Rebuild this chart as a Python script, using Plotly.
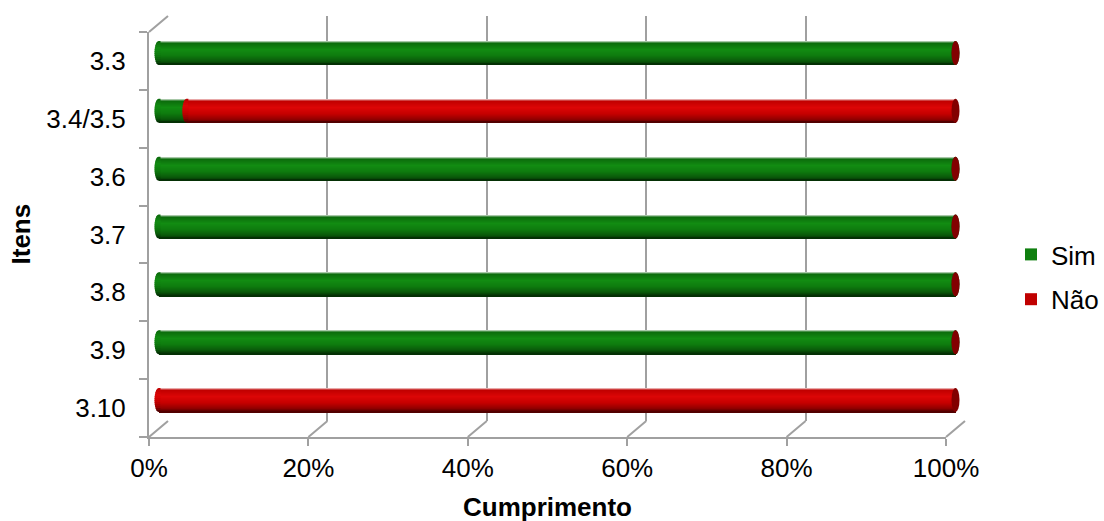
import math
import plotly.graph_objects as go

# ---- data -------------------------------------------------------------
categories = ["3.3", "3.4/3.5", "3.6", "3.7", "3.8", "3.9", "3.10"]
sim = [100, 3.5, 100, 100, 100, 100, 0]
nao = [0, 96.5, 0, 0, 0, 0, 100]
series_names = ["Sim", "Não"]
x_ticks = [0, 20, 40, 60, 80, 100]
x_tick_labels = ["0%", "20%", "40%", "60%", "80%", "100%"]

# ---- geometry (pixels) ------------------------------------------------
W, H = 1104, 521
FRONT_L, FRONT_R = 149, 946      # front plane, 0% .. 100%
FRONT_T, FRONT_B = 32, 437       # front plane, top .. bottom
DEPTH_X, DEPTH_Y = 19, 16        # 3-D depth offset of the back wall
BAR_PX = 24                      # cylinder diameter
CAP_PX = 8                       # width of the elliptic end faces
N = len(categories)
UNIT = (FRONT_R - FRONT_L) / 100.0      # px per percent
ROW = (FRONT_B - FRONT_T) / N           # px per category
GRID = "#a0a0a0"
FONT = "Liberation Sans, Arial, sans-serif"
FS = 26


def axis_pair(left, right, top, bottom, dx, dy):
    """Domains and ranges for a plane shifted by (dx, dy) pixels."""
    def xv(px):
        return (px - FRONT_L - dx) / UNIT

    def yv(px):
        return (px - FRONT_T - dy) / ROW - 0.5

    xdom = [left / W, right / W]
    ydom = [1 - bottom / H, 1 - top / H]
    return xdom, [xv(left), xv(right)], ydom, [yv(bottom), yv(top)]


def hex_rgb(h):
    h = h.lstrip("#")
    return [int(h[i:i + 2], 16) for i in (0, 2, 4)]


def gradient(stops, t):
    for (t0, c0), (t1, c1) in zip(stops, stops[1:]):
        if t0 <= t <= t1:
            f = 0 if t1 == t0 else (t - t0) / (t1 - t0)
            a, b = hex_rgb(c0), hex_rgb(c1)
            return "rgb(%d,%d,%d)" % tuple(round(a[i] + (b[i] - a[i]) * f) for i in range(3))
    return stops[-1][1]


shading = {
    "Sim": [(0, "#a8c8a8"), (0.07, "#0c6c0c"), (0.35, "#128c12"),
            (0.62, "#0e7a0e"), (0.86, "#095809"), (1, "#043004")],
    "Não": [(0, "#e8a8a8"), (0.07, "#c00000"), (0.35, "#dc0606"),
            (0.62, "#c60000"), (0.86, "#920000"), (1, "#520000")],
}
cap_color = {"Sim": "#0a4c0a", "Não": "#820000"}
legend_color = {"Sim": "#0f7f0f", "Não": "#c00000"}

fig = go.Figure()

# front plane axes (labels, axis lines, ticks)
fx_dom, fx_rng, fy_dom, fy_rng = axis_pair(FRONT_L, FRONT_R, FRONT_T, FRONT_B, 0, 0)
# back wall axes (vertical gridlines)
bx_dom, bx_rng, by_dom, by_rng = axis_pair(FRONT_L + DEPTH_X, FRONT_R + DEPTH_X,
                                           FRONT_T - DEPTH_Y, FRONT_B - DEPTH_Y,
                                           DEPTH_X, -DEPTH_Y)
# bar plane, halfway into the depth
PAD = 10
cx_dom, cx_rng, cy_dom, cy_rng = axis_pair(FRONT_L + DEPTH_X / 2 - PAD, FRONT_R + DEPTH_X / 2 + PAD,
                                           FRONT_T - DEPTH_Y / 2 - PAD, FRONT_B - DEPTH_Y / 2 + PAD,
                                           DEPTH_X / 2, -DEPTH_Y / 2)
# frame plane covering the whole box (depth edges)
gx_dom, gx_rng, gy_dom, gy_rng = axis_pair(FRONT_L - 4, FRONT_R + DEPTH_X + 4,
                                           FRONT_T - DEPTH_Y - 4, FRONT_B + 4, 0, 0)

fig.add_trace(go.Scatter(x=[], y=[], xaxis="x", yaxis="y", showlegend=False, hoverinfo="skip"))
fig.add_trace(go.Scatter(x=[], y=[], xaxis="x2", yaxis="y2", showlegend=False, hoverinfo="skip"))
fig.add_trace(go.Scatter(x=[], y=[], xaxis="x4", yaxis="y4", showlegend=False, hoverinfo="skip"))

# cylinders: horizontal shading bands, stacked Sim then Não
NB = 24
bar_w = BAR_PX / ROW
values = {"Sim": sim, "Não": nao}
bases = {"Sim": [0] * N, "Não": sim}
for name in series_names:
    for k in range(NB):
        top = -bar_w / 2 + k * bar_w / NB
        width = bar_w / 2 - top
        centre = (top + bar_w / 2) / 2
        fig.add_trace(go.Bar(
            orientation="h",
            x=values[name],
            base=bases[name],
            y=[i + centre for i in range(N)],
            width=width,
            marker=dict(color=gradient(shading[name], k / (NB - 1)), line=dict(width=0)),
            xaxis="x3", yaxis="y3",
            name=name,
            legendgroup=name,
            showlegend=False,
            hoverinfo="skip",
        ))
    # legend entry
    fig.add_trace(go.Bar(
        orientation="h", x=[None], y=[None], name=name, legendgroup=name,
        marker=dict(color=legend_color[name], line=dict(width=0)),
        xaxis="x3", yaxis="y3", showlegend=True, hoverinfo="skip",
    ))


def bulge_paths(name, pos, row):
    """Shaded left half-ellipse closing the start of a cylinder segment."""
    a, b = CAP_PX / 2, BAR_PX / 2
    nb = 12
    inner = 2.0   # overlap into the body so no seam shows
    out = []
    for k in range(nb):
        # pixel offsets, positive upwards; band k counted from the top
        y0 = b - k * 2 * b / nb
        y1 = max(b - (k + 1) * 2 * b / nb - 0.8, -b)
        pts = []
        steps = 4
        for s in range(steps + 1):
            yy = y0 + (y1 - y0) * s / steps
            xx = -a * math.sqrt(max(0.0, 1 - (yy / b) ** 2))
            pts.append((xx, yy))
        path = ("M%.2f,%.2f " % (inner, y0)
                + " ".join("L%.2f,%.2f" % p for p in pts)
                + " L%.2f,%.2f Z" % (inner, y1))
        out.append(dict(
            type="path", xref="x3", yref="y3",
            xsizemode="pixel", ysizemode="pixel",
            xanchor=pos, yanchor=row, path=path,
            fillcolor=gradient(shading[name], min(1.0, (k + 0.5) / nb + 0.04)),
            line=dict(width=0), layer="above",
        ))
    return out


shapes = []
# elliptic ends of each cylinder segment
for i in range(N):
    for j, name in enumerate(series_names):
        start = bases[name][i]
        length = values[name][i]
        end = start + length
        if length > 0:
            shapes.extend(bulge_paths(name, start, i))
        following = values[series_names[j + 1]][i] if j + 1 < len(series_names) else 0
        if following <= 0:
            shapes.append(dict(
                type="circle", xref="x3", yref="y3",
                xsizemode="pixel", ysizemode="pixel",
                xanchor=end, yanchor=i,
                x0=-CAP_PX / 2, x1=CAP_PX / 2, y0=-BAR_PX / 2, y1=BAR_PX / 2,
                fillcolor=cap_color[name], line=dict(width=0), layer="above",
            ))

# depth edges of the floor and the top-left corner
for v in x_ticks:
    shapes.append(dict(type="line", xref="x4", yref="y4",
                       xsizemode="pixel", ysizemode="pixel",
                       xanchor=v, yanchor=N - 0.5,
                       x0=0, x1=DEPTH_X, y0=0, y1=DEPTH_Y,
                       line=dict(color=GRID, width=2)))
shapes.append(dict(type="line", xref="x4", yref="y4",
                   xsizemode="pixel", ysizemode="pixel",
                   xanchor=0, yanchor=-0.5,
                   x0=0, x1=DEPTH_X, y0=0, y1=DEPTH_Y,
                   line=dict(color=GRID, width=2)))

hidden = dict(visible=False, fixedrange=True, automargin=False)

fig.update_layout(
    width=W, height=H,
    autosize=False,
    margin=dict(l=0, r=0, t=0, b=0, pad=0),
    paper_bgcolor="white",
    plot_bgcolor="rgba(0,0,0,0)",
    barmode="overlay",
    bargap=0,
    font=dict(family=FONT, size=FS, color="black"),
    showlegend=True,
    legend=dict(
        x=1, xanchor="right", y=1 - 277 / H, yanchor="middle",
        font=dict(size=FS), tracegroupgap=8, bgcolor="rgba(0,0,0,0)",
        borderwidth=0, itemclick=False, itemdoubleclick=False,
    ),
    xaxis=dict(
        domain=fx_dom, range=fx_rng, anchor="y", automargin=False,
        tickmode="array", tickvals=x_ticks, ticktext=x_tick_labels,
        ticks="outside", ticklen=7, tickwidth=2, tickcolor=GRID,
        showline=True, linecolor=GRID, linewidth=2,
        showgrid=False, zeroline=False, fixedrange=True,
    ),
    yaxis=dict(
        domain=fy_dom, range=fy_rng, anchor="x", automargin=False,
        tickmode="array", tickvals=list(range(N)), ticktext=categories,
        ticks="outside", ticklen=8, tickcolor="rgba(0,0,0,0)",
        ticklabelstandoff=8,
        minor=dict(tickmode="array", tickvals=[i - 0.5 for i in range(N + 1)],
                   ticks="outside", ticklen=8, tickwidth=2, tickcolor=GRID, showgrid=False),
        showline=True, linecolor=GRID, linewidth=2,
        showgrid=False, zeroline=False, fixedrange=True,
    ),
    xaxis2=dict(
        domain=bx_dom, range=bx_rng, anchor="y2", automargin=False,
        tickmode="array", tickvals=x_ticks, showticklabels=False, ticks="",
        showgrid=True, gridcolor=GRID, gridwidth=2,
        showline=False, zeroline=False, fixedrange=True,
    ),
    yaxis2=dict(domain=by_dom, range=by_rng, anchor="x2", **hidden),
    xaxis3=dict(domain=cx_dom, range=cx_rng, anchor="y3", **hidden),
    yaxis3=dict(domain=cy_dom, range=cy_rng, anchor="x3", **hidden),
    xaxis4=dict(domain=gx_dom, range=gx_rng, anchor="y4", **hidden),
    yaxis4=dict(domain=gy_dom, range=gy_rng, anchor="x4", **hidden),
    shapes=shapes,
    annotations=[
        dict(text="<b>Cumprimento</b>", xref="paper", yref="paper",
             x=(FRONT_L + FRONT_R) / 2 / W, y=1 - 507 / H,
             xanchor="center", yanchor="middle", showarrow=False,
             font=dict(size=FS)),
        dict(text="<b>Itens</b>", xref="paper", yref="paper",
             x=21 / W, y=1 - (FRONT_T + FRONT_B) / 2 / H,
             xanchor="center", yanchor="middle", showarrow=False,
             textangle=-90, font=dict(size=FS)),
    ],
)

fig.write_html("out.html")
